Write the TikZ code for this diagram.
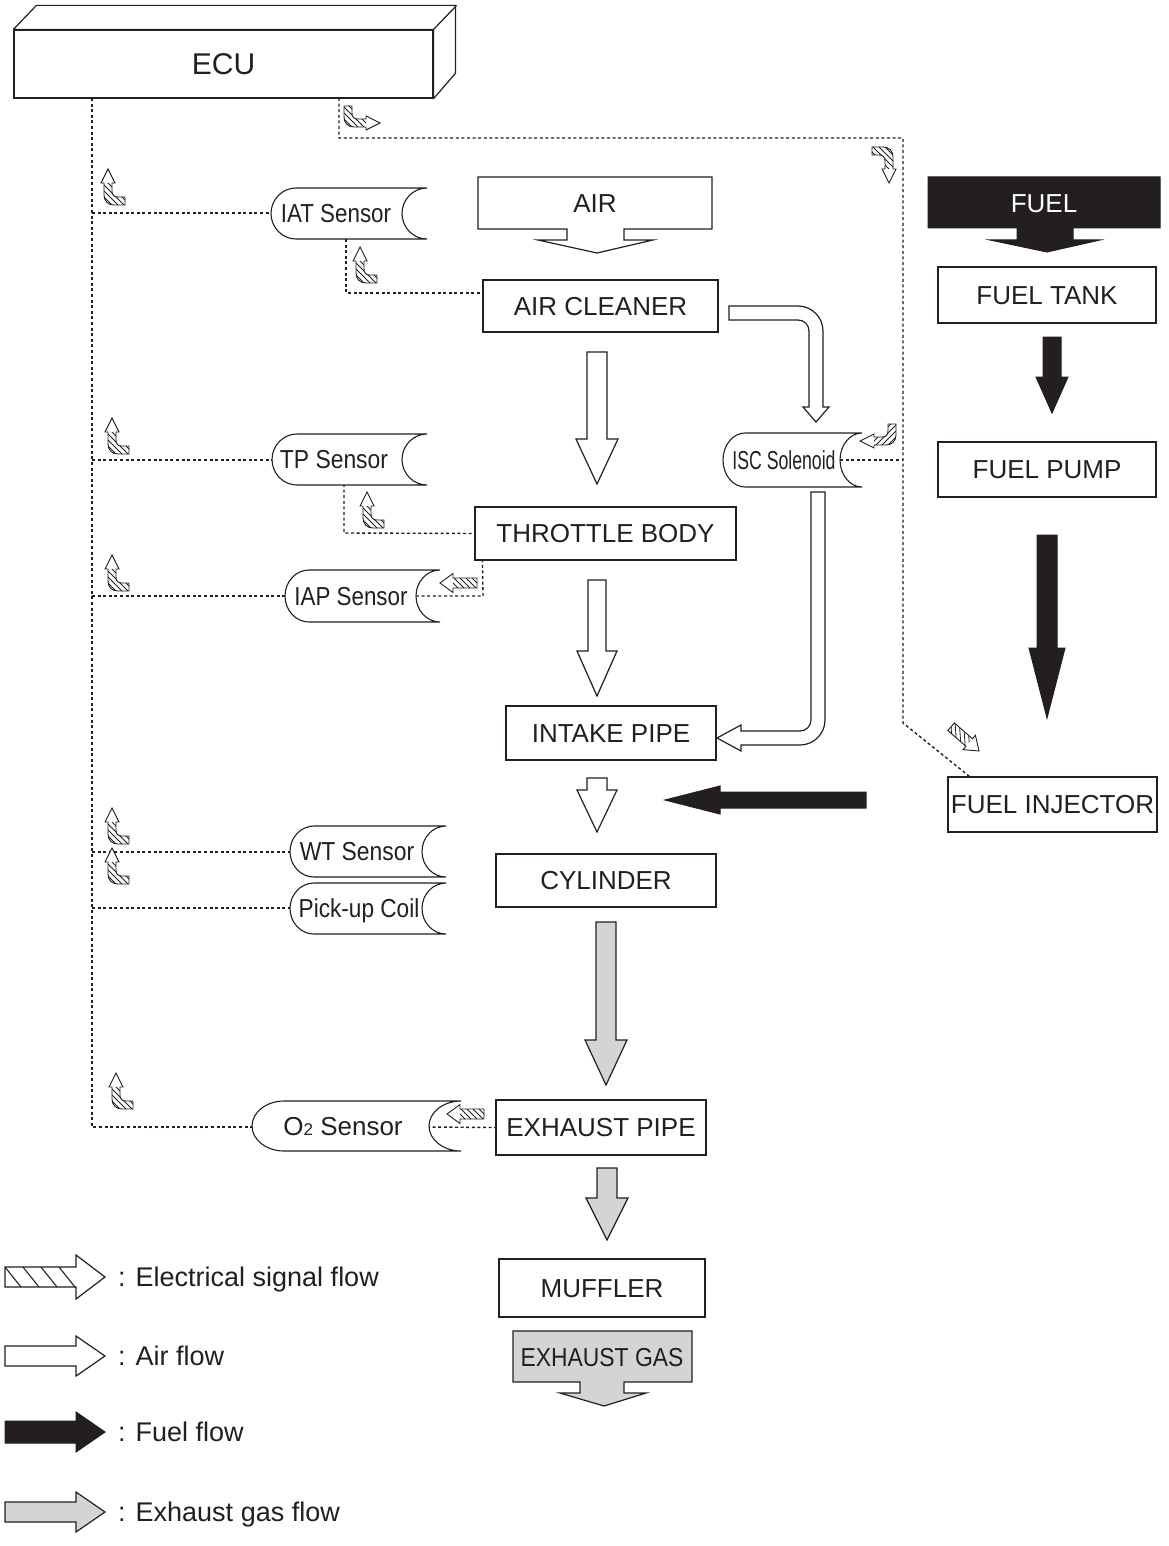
\documentclass[tikz,border=0pt]{standalone}
\usepackage{fontspec}
\usepackage{graphicx}
\setmainfont{Liberation Sans}
\usetikzlibrary{calc}
\definecolor{ink}{HTML}{231F20}
\definecolor{exg}{HTML}{D4D4D4}
\tikzset{
 box/.style={draw=ink, line width=1.2pt, fill=white, inner sep=0pt, font=\fontsize{26}{30}\selectfont, text=ink, text height=18.6pt, text depth=0pt},
 stxt/.style={inner sep=0pt, font=\fontsize{26}{30}\selectfont, text=ink, text height=18.6pt, text depth=0pt},
 ltxt/.style={anchor=west, inner sep=0pt, font=\fontsize{27}{30}\selectfont, text=ink, text height=19.3pt, text depth=0pt},
 dotl/.style={draw=ink, line width=1.4pt, dash pattern=on 3pt off 2.6pt},
 sline/.style={draw=ink, line width=1.1pt, fill=white},
 airf/.style={draw=ink, line width=1.2pt, fill=white, line join=miter},
 fuelf/.style={draw=ink, line width=1pt, fill=ink},
 exf/.style={draw=ink, line width=1.2pt, fill=exg},
 sout/.style={draw=ink, line width=0.9pt},
 hatch/.style={draw=ink, line width=0.8pt},
 sigcurve/.pic={
  \fill[white] (0,0) -- (7,14) -- (4,14) -- (4,22) .. controls (4,26) and (6,28) .. (10,28) -- (17,28) -- (17,36) -- (6,36) .. controls (0,36) and (-4,32) .. (-4,26) -- (-4,14) -- (-7,14) -- cycle;
  \begin{scope}
   \clip (4,14) -- (4,22) .. controls (4,26) and (6,28) .. (10,28) -- (17,28) -- (17,36) -- (6,36) .. controls (0,36) and (-4,32) .. (-4,26) -- (-4,14) -- cycle;
   \foreach \a in {-22,-16,-10,-4,2,8} \draw[hatch] (\a,10) -- ++(30,30);
  \end{scope}
  \draw[sout] (0,0) -- (7,14) -- (4,14) -- (4,22) .. controls (4,26) and (6,28) .. (10,28) -- (17,28) -- (17,36) -- (6,36) .. controls (0,36) and (-4,32) .. (-4,26) -- (-4,14) -- (-7,14) -- cycle;
 },
 sigstraight/.pic={
  \fill[white] (0,0) -- (-13,-9.5) -- (-13,-5) -- (-37,-5) -- (-37,5) -- (-13,5) -- (-13,9.5) -- cycle;
  \begin{scope}
   \clip (-37,-5) rectangle (-13,5);
   \foreach \a in {-42,-36,-30,-24,-18} \draw[hatch] (\a,-5) -- ++(10,10);
  \end{scope}
  \draw[sout] (0,0) -- (-13,-9.5) -- (-13,-5) -- (-37,-5) -- (-37,5) -- (-13,5) -- (-13,9.5) -- cycle;
 },
}
% vertical downward block arrow: x, ytop, ytip, half shaft, half head, head length, style
\newcommand\downflow[7]{\draw[#7] ({#1-#4},#2) -- ({#1+#4},#2) -- ({#1+#4},{#3-#6}) -- ({#1+#5},{#3-#6}) -- (#1,#3) -- ({#1-#5},{#3-#6}) -- ({#1-#4},{#3-#6}) -- cycle;}
% horizontal block arrow: y, xtail, xtip, half shaft, half head, signed head length, style
\newcommand\sideflow[7]{\draw[#7] (#2,{#1-#4}) -- ({#3-(#6)},{#1-#4}) -- ({#3-(#6)},{#1-#5}) -- (#3,#1) -- ({#3-(#6)},{#1+#5}) -- ({#3-(#6)},{#1+#4}) -- (#2,{#1+#4}) -- cycle;}
% sensor: name, xl, xr, yt, yb, depth, text x, text
\newcommand\sensor[8]{%
 \draw[sline] ({#2+#6},#4) -- (#3,#4) .. controls ({#3-0.55*#6},#4) and ({#3-#6},{(#4+#5)/2-0.275*(#5-#4)}) .. ({#3-#6},{(#4+#5)/2}) .. controls ({#3-#6},{(#4+#5)/2+0.275*(#5-#4)}) and ({#3-0.55*#6},#5) .. (#3,#5) -- ({#2+#6},#5) .. controls ({#2+0.45*#6},#5) and (#2,{(#4+#5)/2+0.275*(#5-#4)}) .. (#2,{(#4+#5)/2}) .. controls (#2,{(#4+#5)/2-0.275*(#5-#4)}) and ({#2+0.45*#6},#4) .. ({#2+#6},#4);
 \coordinate (#1-l) at (#2,{(#4+#5)/2});
 \coordinate (#1-r) at ({#3-#6},{(#4+#5)/2});
 \node[stxt] (#1) at (#7,{(#4+#5)/2}) {#8};}
\begin{document}
\begin{tikzpicture}[x=1pt,y=-1pt]
\useasboundingbox[fill=white] (0,0) rectangle (1168,1546);

% ---------- ECU ----------
\node[box, minimum width=419pt, minimum height=68pt, font=\fontsize{30}{34}\selectfont, text height=21.5pt] (ecu) at (223.5,64) {ECU};
\draw[draw=ink, line width=1.2pt, fill=white, line join=round] (ecu.north west) -- ++(23,-24) -- ++(419,0) -- ++(0,68) -- (ecu.south east) -- (ecu.north east) -- cycle;
\draw[draw=ink, line width=1.2pt] (ecu.north east) -- ++(23,-24);

% ---------- main boxes ----------
\node[box, minimum width=235pt, minimum height=52pt] (aircl) at (600.5,306) {AIR CLEANER};
\node[box, minimum width=261pt, minimum height=53pt] (thr) at (605.5,533.5) {THROTTLE BODY};
\node[box, minimum width=210pt, minimum height=54pt] (intake) at (611,733) {INTAKE PIPE};
\node[box, minimum width=220pt, minimum height=53pt] (cyl) at (606,880.5) {CYLINDER};
\node[box, minimum width=210pt, minimum height=55pt] (exh) at (601,1127.5) {EXHAUST PIPE};
\node[box, minimum width=206pt, minimum height=58pt] (muf) at (602,1288) {MUFFLER};
\node[box, minimum width=218pt, minimum height=56pt] (tank) at (1047,295) {FUEL TANK};
\node[box, minimum width=218pt, minimum height=55pt] (pump) at (1047,469.5) {FUEL PUMP};
\node[box, minimum width=209pt, minimum height=55pt] (inj) at (1052.5,804.5) {FUEL INJECTOR};

% ---------- source / outlet arrow boxes ----------
\draw[airf] (478,177) -- (712,177) -- (712,229) -- (624,229) -- (624,240) -- (653,240) -- (597,253) -- (538,240) -- (567,240) -- (567,229) -- (478,229) -- cycle;
\node[stxt] (air) at (595,203) {AIR};
\draw[fuelf] (928,177) -- (1160,177) -- (1160,228) -- (1073,228) -- (1073,240) -- (1100,240) -- (1047,252) -- (990,240) -- (1017,240) -- (1017,228) -- (928,228) -- cycle;
\node[stxt, text=white] (fuel) at (1044,203) {FUEL};
\draw[exf] (513,1331) -- (692,1331) -- (692,1382) -- (624,1382) -- (624,1393) -- (646,1393) -- (604,1406) -- (560,1393) -- (580,1393) -- (580,1382) -- (513,1382) -- cycle;
\node[stxt] (exgas) at (602,1357) {\scalebox{0.88}[1]{EXHAUST GAS}};

% ---------- dotted signal lines ----------
\coordinate (b0) at (92,98);
\coordinate (b1) at (339,98);
\draw[dotl] (b0) -- (92,1127) -- (252,1127);
\draw[dotl] (92,213) -- (271,213);
\draw[dotl] (346,239) -- (346,293) -- ([yshift=13pt]aircl.west);
\draw[dotl] (92,460) -- (272,460);
\draw[dotl] (344,484) -- (344,533) -- (thr.west);
\draw[dotl] (92,596) -- (285,596);
\draw[dotl] (416,596) -- (483,596) -- ([xshift=8pt]thr.south west);
\draw[dotl] (92,852) -- (290,852);
\draw[dotl] (92,908) -- (290,908);
\draw[dotl] (427,1127) -- (exh.west);
\draw[dotl] (b1) -- (339,138) -- (903,138) -- (903,723) -- ([xshift=22pt]inj.north west);
\draw[dotl] (840,460) -- (903,460);

% ---------- sensors ----------
\sensor{iat}{271}{427}{188}{239}{25}{336}{\scalebox{0.86}[1]{IAT Sensor}}
\sensor{tp}{272}{427}{434}{485}{25}{334}{\scalebox{0.88}[1]{TP Sensor}}
\sensor{iap}{285}{440}{570}{622}{24}{351}{\scalebox{0.86}[1]{IAP Sensor}}
\sensor{isc}{723}{862}{433}{487}{22}{784}{\scalebox{0.68}[1]{ISC Solenoid}}
\sensor{wt}{290}{446}{826}{877}{24}{357}{\scalebox{0.88}[1]{WT Sensor}}
\sensor{pc}{290}{446}{883}{934}{24}{359}{\scalebox{0.87}[1]{Pick-up Coil}}
\sensor{o2}{252}{461}{1101}{1151}{32}{343}{O{\fontsize{17}{17}\selectfont 2} Sensor}

% ---------- air flow ----------
\downflow{597}{352}{484}{10}{21}{45}{airf}
\downflow{597}{580}{696}{9}{20}{45}{airf}
\downflow{597}{778}{832}{10}{20}{42}{airf}
\draw[airf] (729,306) -- (798,306) .. controls (811.8,306) and (823,317.2) .. (823,331) -- (823,407) -- (829,407) -- (816,422) -- (803,407) -- (809,407) -- (809,331) .. controls (809,324.9) and (804.1,320) .. (798,320) -- (729,320) -- cycle;
\draw[airf] (811,492) -- (825,492) -- (825,720) .. controls (825,733.8) and (813.8,745) .. (800,745) -- (741,745) -- (741,751) -- (717,738) -- (741,725) -- (741,731) -- (800,731) .. controls (806.1,731) and (811,726.1) .. (811,720) -- cycle;

% ---------- exhaust flow ----------
\downflow{606}{922}{1085}{10}{21}{45}{exf}
\downflow{607}{1168}{1240}{10}{21}{42}{exf}

% ---------- fuel flow ----------
\downflow{1052}{337}{413}{9}{16}{36}{fuelf}
\downflow{1047}{535}{718}{10}{18}{70}{fuelf}
\sideflow{800}{866}{665}{8}{14}{-55}{fuelf}

% ---------- electrical signal arrows ----------
\pic at (108,169) {sigcurve};
\pic at (360,247) {sigcurve};
\pic at (112,418) {sigcurve};
\pic at (367,492) {sigcurve};
\pic at (112,555) {sigcurve};
\pic at (112,808) {sigcurve};
\pic at (112,848) {sigcurve};
\pic at (116,1073) {sigcurve};
\pic[rotate=-90, xscale=-1] at (380,123) {sigcurve};
\pic[rotate=180] at (889,183) {sigcurve};
\pic[rotate=90] at (860,441) {sigcurve};
\pic[rotate=180] at (440,583) {sigstraight};
\pic[rotate=180] at (447,1114) {sigstraight};
\pic[rotate=-41] at (979,751) {sigstraight};

% ---------- legend ----------
\fill[white] (5,1267) -- (76,1267) -- (76,1255) -- (105,1277) -- (76,1299) -- (76,1287) -- (5,1287) -- cycle;
\begin{scope}
 \clip (5,1267) rectangle (76,1287);
 \foreach \a in {5,23,41,59} \draw[draw=ink, line width=1.1pt] (\a,1267) -- ++(16,20);
\end{scope}
\draw[draw=ink, line width=1.2pt] (5,1267) -- (76,1267) -- (76,1255) -- (105,1277) -- (76,1299) -- (76,1287) -- (5,1287) -- cycle;
\node[ltxt] (lelec) at (118,1277) {: Electrical signal flow};
\sideflow{1356}{5}{105}{10}{20}{29}{airf}
\node[ltxt] (lair) at (118,1356) {: Air flow};
\sideflow{1432}{5}{105}{11}{20}{29}{fuelf}
\node[ltxt] (lfuel) at (118,1432) {: Fuel flow};
\sideflow{1512}{5}{105}{10}{20}{29}{exf}
\node[ltxt] (lexh) at (118,1512) {: Exhaust gas flow};
\end{tikzpicture}
\end{document}
